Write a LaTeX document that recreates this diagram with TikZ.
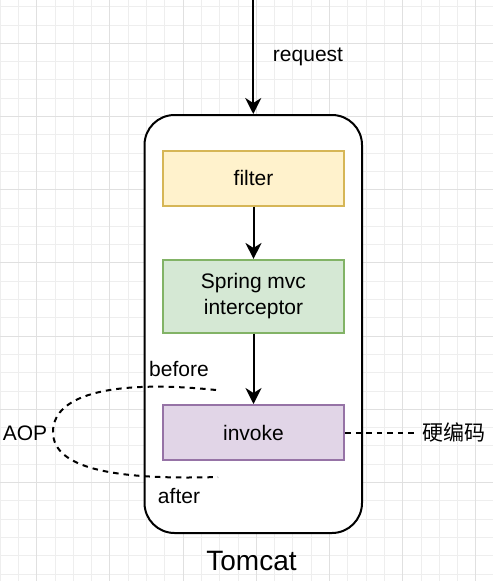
\documentclass[tikz,border=0pt]{standalone}
\usepackage{fontspec}
\setmainfont{Liberation Sans}
\newfontfamily\cjk{Noto Sans CJK SC}
\usetikzlibrary{arrows.meta}
\definecolor{filterfill}{HTML}{FFF2CC}
\definecolor{filterdraw}{HTML}{D6B656}
\definecolor{springfill}{HTML}{D5E8D4}
\definecolor{springdraw}{HTML}{82B366}
\definecolor{invokefill}{HTML}{E1D5E7}
\definecolor{invokedraw}{HTML}{9673A6}
\definecolor{gridlight}{HTML}{EEEEEE}
\definecolor{griddark}{HTML}{E0E0E0}
\tikzset{
  lbl/.style={font=\fontsize{21}{25}\selectfont, inner sep=0pt, text=black},
  box/.style={draw, line width=2pt, minimum width=181.6pt, align=center,
    font=\fontsize{21}{25.5}\selectfont, inner sep=0pt},
  flow/.style={line width=2pt, -{Stealth[length=16pt,width=16pt,inset=5pt]}},
  dashline/.style={line width=2pt, dash pattern=on 5.5pt off 5pt},
}
\begin{document}
\begin{tikzpicture}[x=1pt,y=-1pt]
\useasboundingbox (0,0) rectangle (493,581);
\fill[white] (0,0) rectangle (493,581);
% grid
\foreach \i in {0,...,27} {
  \draw[gridlight, line width=1pt] ({0.1+18.3*\i},0) -- ({0.1+18.3*\i},581);
}
\foreach \i in {0,...,31} {
  \draw[gridlight, line width=1pt] (0,{6.7+18.3*\i}) -- (493,{6.7+18.3*\i});
}
\foreach \i in {0,...,6} {
  \draw[griddark, line width=1pt] ({36.7+73.2*\i},0) -- ({36.7+73.2*\i},581);
  \draw[griddark, line width=1pt] (0,{43.3+73.2*\i}) -- (493,{43.3+73.2*\i});
}
% container
\node[draw, line width=2pt, rounded corners=30pt, minimum width=217.5pt,
      minimum height=418pt, fill=white, inner sep=0pt] (tomcat) at (253.25,324) {};
\node[font=\fontsize{28}{32}\selectfont, inner sep=0pt] (tomcatlbl) at (251.5,561) {Tomcat};
% boxes
\node[box, fill=filterfill, draw=filterdraw, minimum height=54.7pt] (filter) at (253.5,178.3) {filter};
\node[box, fill=springfill, draw=springdraw, minimum height=72.7pt] (spring) at (253.5,296.3) {Spring mvc\\interceptor};
\node[box, fill=invokefill, draw=invokedraw, minimum height=55pt] (invoke) at (253.5,432.5) {invoke};
% request arrow
\coordinate (reqstart) at (253.25,0);
\draw[flow] (reqstart) -- (tomcat.north);
\node[lbl] (reqlbl) at (308,57) {request};
% flow arrows
\draw[flow] (filter.south) -- (spring.north);
\draw[flow] (spring.south) -- (invoke.north);
% hard-coded
\node[lbl, font=\cjk\fontsize{21}{25}\selectfont] (hard) at (454,432.5) {硬编码};
\coordinate (hardend) at (415,432.5);
\draw[dashline] (invoke.east) -- (hardend);
% AOP
\coordinate (aopS) at (216,390);
\coordinate (aopM) at (53,432);
\coordinate (aopE) at (218,477);
\draw[dashline] (aopS) .. controls (120,380) and (53,392) .. (aopM)
  .. controls (53,470) and (120,480) .. (aopE);
\node[lbl] (aop) at (25,433) {AOP};
\node[lbl] (before) at (179,369) {before};
\node[lbl] (after) at (179,496) {after};
\end{tikzpicture}
\end{document}
